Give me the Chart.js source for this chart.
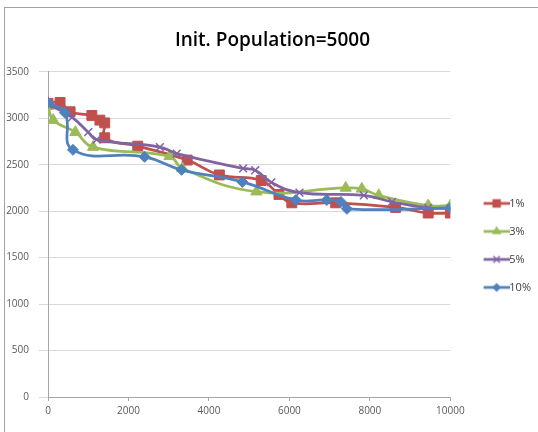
<!DOCTYPE html>
<html>
<head>
<meta charset="utf-8">
<script src="https://cdn.jsdelivr.net/npm/chart.js@4/dist/chart.umd.min.js"></script>
<style>
  html, body { margin: 0; padding: 0; background: #ffffff; overflow: hidden; }
  #wrap { position: relative; width: 538px; height: 432px; overflow: hidden; }
  #frame { position: absolute; left: 4px; top: 7px; width: 700px; height: 700px; border: 1px solid #a3a3a3; box-sizing: border-box; pointer-events: none; }
  canvas { position: absolute; left: 0; top: 0; }
</style>
</head>
<body>
<div id="wrap">
  <canvas id="c" width="538" height="432"></canvas>
  <div id="frame"></div>
</div>
<script>
// ---- data ----
const titleText = "Init. Population=5000";
const seriesNames = ["1%", "3%", "5%", "10%"];

const x1 = [0, 300, 550, 1090, 1290, 1410, 1410, 2230, 3460, 4260, 5300, 5740, 6060, 7150, 8640, 9450, 10000];
const y1 = [3160, 3170, 3070, 3030, 2980, 2950, 2790, 2700, 2550, 2390, 2330, 2180, 2090, 2090, 2040, 1980, 1980];

const x3 = [0, 130, 680, 1120, 3020, 3340, 5180, 7400, 7800, 8220, 9450, 10000];
const y3 = [3130, 2980, 2850, 2690, 2590, 2460, 2210, 2250, 2240, 2170, 2060, 2060];

const x5 = [0, 600, 1000, 1210, 2780, 3200, 4850, 5150, 5550, 6250, 7850, 8550, 9450, 10000];
const y5 = [3150, 3010, 2850, 2770, 2690, 2620, 2460, 2440, 2310, 2200, 2170, 2100, 2035, 2030];

const x10 = [0, 420, 620, 2400, 3320, 4830, 6160, 6930, 7280, 7430, 10000];
const y10 = [3170, 3060, 2660, 2585, 2445, 2315, 2120, 2120, 2100, 2025, 2035];

const xTicks = [0, 2000, 4000, 6000, 8000, 10000];
const yTicks = [0, 500, 1000, 1500, 2000, 2500, 3000, 3500];

// ---- styles ----
const colors = ["#C0504D", "#9BBB59", "#8064A2", "#4F81BD"];
const markers = ["rect", "triangle", "crossRot", "rectRot"];
const radii = [7, 6.5, 5.5, 5.5];

function pts(xs, ys) { return xs.map((x, i) => ({ x: x, y: ys[i] })); }
const allX = [x1, x3, x5, x10];
const allY = [y1, y3, y5, y10];

function legendIcon(i) {
  const c = document.createElement("canvas");
  c.width = 48; c.height = 14;
  const g = c.getContext("2d");
  g.strokeStyle = colors[i]; g.fillStyle = colors[i]; g.lineWidth = 2.75;
  g.beginPath(); g.moveTo(22, 7); g.lineTo(48, 7); g.stroke();
  const cx = 35, cy = 7, r = radii[i] - 1;
  g.lineWidth = 1.5;
  if (markers[i] === "rect") {
    const s = r * Math.SQRT1_2; g.fillRect(cx - s, cy - s, 2 * s, 2 * s);
  } else if (markers[i] === "triangle") {
    g.beginPath(); g.moveTo(cx, cy - r); g.lineTo(cx + r * 0.87, cy + r * 0.5); g.lineTo(cx - r * 0.87, cy + r * 0.5); g.closePath(); g.fill();
  } else if (markers[i] === "crossRot") {
    const s = r * Math.SQRT1_2;
    g.beginPath(); g.moveTo(cx - s, cy - s); g.lineTo(cx + s, cy + s); g.moveTo(cx + s, cy - s); g.lineTo(cx - s, cy + s); g.stroke();
  } else {
    g.beginPath(); g.moveTo(cx, cy - r); g.lineTo(cx + r, cy); g.lineTo(cx, cy + r); g.lineTo(cx - r, cy); g.closePath(); g.fill();
  }
  return c;
}
const icons = seriesNames.map((_, i) => legendIcon(i));

const datasets = seriesNames.map((name, i) => ({
  label: name,
  data: pts(allX[i], allY[i]),
  showLine: true,
  borderColor: colors[i],
  backgroundColor: colors[i],
  borderWidth: 2.75,
  pointStyle: markers[i],
  pointRadius: radii[i],
  pointBorderWidth: markers[i] === "crossRot" ? 1.5 : 1,
  pointBorderColor: colors[i],
  pointBackgroundColor: colors[i],
  tension: 0.45,
  order: 3 - i
}));

Chart.defaults.font.family = "'Open Sans', 'DejaVu Sans', sans-serif";
Chart.defaults.color = "#595959";

new Chart(document.getElementById("c"), {
  type: "scatter",
  data: { datasets: datasets },
  options: {
    responsive: false,
    animation: false,
    devicePixelRatio: 1,
    layout: { padding: { left: 4, right: -3, top: 0, bottom: 0 } },
    plugins: {
      tooltip: { enabled: false },
      title: {
        display: true,
        text: titleText,
        color: "#000000",
        font: { size: 19, weight: "600", family: "'Open Sans', sans-serif" },
        padding: { top: 29, bottom: 20 }
      },
      legend: {
        display: true,
        position: "right",
        fullSize: false,
        title: { display: true, text: " ", font: { size: 10 }, padding: 5 },
        labels: {
          usePointStyle: true,
          pointStyleWidth: 36.5,
          padding: 17,
          color: "#404040",
          font: { size: 11 },
          sort: (a, b) => a.datasetIndex - b.datasetIndex,
          generateLabels: (chart) => {
            const items = Chart.defaults.plugins.legend.labels.generateLabels(chart);
            items.forEach(it => { it.pointStyle = icons[it.datasetIndex]; });
            return items;
          }
        }
      }
    },
    scales: {
      x: {
        type: "linear",
        min: 0, max: 10000,
        afterBuildTicks: s => { s.ticks = xTicks.map(v => ({ value: v })); },
        afterFit: s => { s.height = 35; },
        ticks: { font: { size: 10 }, padding: 4, maxRotation: 0, color: "#595959", callback: v => String(v) },
        grid: { drawOnChartArea: false, drawTicks: true, tickLength: 4, color: "#a6a6a6" },
        border: { color: "#a6a6a6" }
      },
      y: {
        type: "linear",
        min: 0, max: 3500,
        afterBuildTicks: s => { s.ticks = yTicks.map(v => ({ value: v })); },
        afterFit: s => { s.width = 44; },
        ticks: { font: { size: 10 }, padding: 10, color: "#595959", callback: v => String(v) },
        grid: { drawOnChartArea: true, drawTicks: true, tickLength: 9, color: "#d9d9d9" },
        border: { color: "#a6a6a6" }
      }
    }
  }
});
</script>
</body>
</html>
